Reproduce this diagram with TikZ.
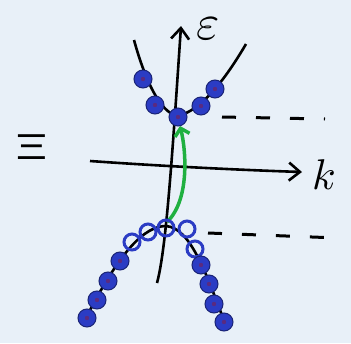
\documentclass[tikz,border=0pt]{standalone}
\usepackage{graphicx}
\usepackage{fontspec}
\newfontfamily\dvsans{DejaVu Sans}
\usetikzlibrary{arrows.meta}
\definecolor{bg}{HTML}{E8F0F8}
\definecolor{dotblue}{HTML}{2B3CC4}
\definecolor{dotcore}{HTML}{5A2A80}
\definecolor{arrgreen}{HTML}{1FB040}
\tikzset{
  axis/.style={line width=2.6pt,-{Straight Barb[length=11pt,width=18pt,line width=2.6pt]}},
  band/.style={line width=2.6pt,black},
  full/.style={circle,fill=dotblue,draw=dotblue!60!black,line width=1pt,minimum size=18pt,inner sep=0pt,
     path picture={\fill[dotcore] (path picture bounding box.center) circle (2.2pt);}},
  hole/.style={circle,draw=dotblue,line width=3pt,minimum size=16pt,inner sep=0pt},
  lvl/.style={line width=3pt,dash pattern=on 14pt off 20pt},
  lab/.style={inner sep=0pt},
}
\begin{document}
\begin{tikzpicture}[x=1pt,y=-1pt]
\fill[bg] (0,0) rectangle (351,343);
\useasboundingbox (0,0) rectangle (351,343);
% axes
\coordinate (vb) at (157,283);
\coordinate (vt) at (181,26);
\coordinate (hl) at (90,161);
\coordinate (hr) at (302,172);
\draw[axis] (vb) .. controls (166,250) and (172,160) .. (vt);
\draw[axis] (hl) .. controls (160,166) and (240,170) .. (hr);
\node[lab] (eps) at (208,29) {\scalebox{5}{$\varepsilon$}};
\node[lab] (kk) at (324,175) {\scalebox{4.3}{$k$}};
\node[lab] (xi) at (31,147) {\scalebox{6}[3.4]{\dvsans Ξ}};
% conduction band
\coordinate (cl) at (134,40);
\coordinate (cm) at (177,116);
\coordinate (cr) at (246,44);
\draw[band] (cl) .. controls (145,80) and (160,112) .. (cm) .. controls (200,112) and (225,80) .. (cr);
% levels
\coordinate (l1a) at (222,117);
\coordinate (l1b) at (325,119);
\draw[lvl] (l1a) -- (l1b);
\coordinate (l2a) at (208,233);
\coordinate (l2b) at (338,238);
\draw[lvl] (l2a) -- (l2b);
% valence band
\coordinate (vl) at (84,322);
\coordinate (vm) at (166,226);
\coordinate (vr) at (226,326);
\draw[band] (vl) .. controls (120,250) and (145,226) .. (vm) .. controls (190,228) and (205,270) .. (vr);
% green transition
\coordinate (gs) at (167,222);
\coordinate (ge) at (180,126);
\draw[arrgreen,line width=3.5pt,-{Straight Barb[length=7pt,width=15pt,line width=3.5pt]}]
  (gs) .. controls (190,200) and (186,150) .. (ge);
% electrons in conduction band
\node[full] (c1) at (143,79) {};
\node[full] (c2) at (155,105) {};
\node[full] (c3) at (178,117) {};
\node[full] (c4) at (201,106) {};
\node[full] (c5) at (215,89) {};
% holes
\node[hole] (h1) at (132,242) {};
\node[hole] (h2) at (148,232) {};
\node[hole] (h3) at (166,228) {};
\node[hole] (h4) at (187,229) {};
\node[hole] (h5) at (195,249) {};
% electrons in valence band
\node[full] (v1) at (120,261) {};
\node[full] (v2) at (108,281) {};
\node[full] (v3) at (97,300) {};
\node[full] (v4) at (87,318) {};
\node[full] (v5) at (201,265) {};
\node[full] (v6) at (209,284) {};
\node[full] (v7) at (214,304) {};
\node[full] (v8) at (224,322) {};
\end{tikzpicture}
\end{document}
